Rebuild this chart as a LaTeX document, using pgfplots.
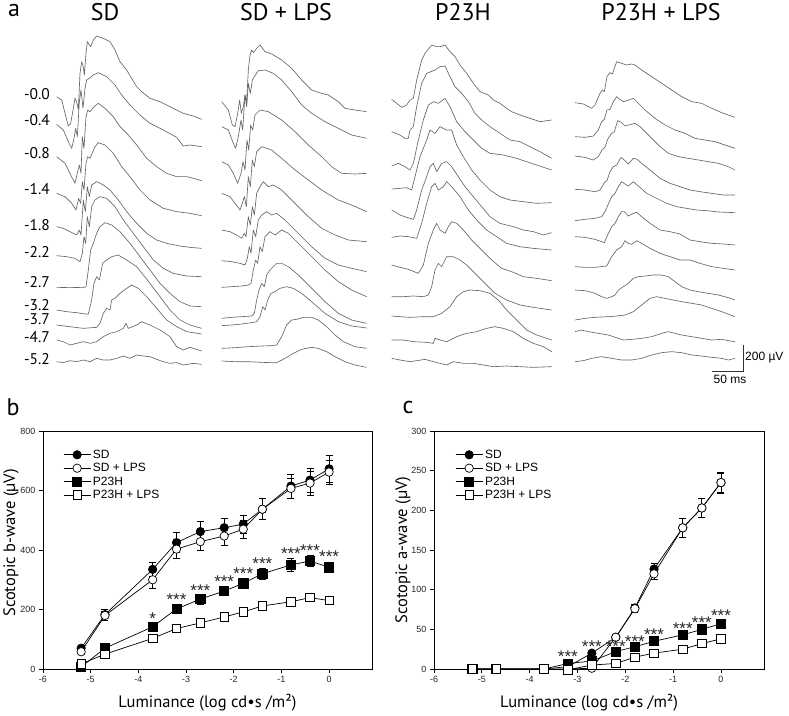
\documentclass[border=0pt]{standalone}
\usepackage{fontspec}
\setmainfont{PT Sans}
\newfontfamily\arial{Liberation Sans}
\usepackage{pgfplots}
\pgfplotsset{compat=1.18}
\usepackage{pgfplotstable}

% panel b: scotopic b-wave (x = log luminance, y = uV, e = error)
\pgfplotstableread{
x y e
-5.2 70 10
-4.7 183 18
-3.7 335 25
-3.2 425 33
-2.7 462 33
-2.2 475 33
-1.8 487 30
-1.4 537 35
-0.8 615 40
-0.4 635 40
0 673 45
}\bSD
\pgfplotstableread{
x y e
-5.2 58 10
-4.7 180 15
-3.7 300 30
-3.2 403 30
-2.7 428 30
-2.2 447 30
-1.8 470 30
-1.4 537 35
-0.8 607 35
-0.4 625 40
0 662 40
}\bSDL
\pgfplotstableread{
x y e
-5.2 7 5
-4.7 70 8
-3.7 142 12
-3.2 202 15
-2.7 235 17
-2.2 262 15
-1.8 288 18
-1.4 320 20
-0.8 350 22
-0.4 363 18
0 342 18
}\bPH
\pgfplotstableread{
x y e
-5.2 17 5
-4.7 50 6
-3.7 103 6
-3.2 136 6
-2.7 155 6
-2.2 175 6
-1.8 192 6
-1.4 212 8
-0.8 226 8
-0.4 240 8
0 230 8
}\bPHL
\pgfplotstableread{
x y s
-3.7 170 *
-3.2 232 ***
-2.7 264 ***
-2.2 294 ***
-1.8 322 ***
-1.4 354 ***
-0.8 388 ***
-0.4 399 ***
0 379 ***
}\bStars

% panel c: scotopic a-wave
\pgfplotstableread{
x y e
-5.2 0 0
-4.7 0 0
-3.7 0 0
-3.2 3 1
-2.7 20 2
-2.2 40 4
-1.8 77 5
-1.4 126 7
-0.8 178 12
-0.4 203 12
0 235 13
}\cSD
\pgfplotstableread{
x y e
-5.2 0 0
-4.7 0 0
-3.7 0 0
-3.2 0 0
-2.7 1 1
-2.2 40 4
-1.8 76 5
-1.4 120 7
-0.8 178 12
-0.4 203 12
0 235 12
}\cSDL
\pgfplotstableread{
x y e
-5.2 0 0
-4.7 0 0
-3.7 0 0
-3.2 7 1
-2.7 10 2
-2.2 22 2
-1.8 28 2
-1.4 35 2
-0.8 43 2
-0.4 50 2
0 57 2
}\cPH
\pgfplotstableread{
x y e
-5.2 0 0
-4.7 0 0
-3.7 0 0
-3.2 -1 0
-2.7 5 1
-2.2 7 1
-1.8 15 1
-1.4 20 1
-0.8 25 1
-0.4 32 1
0 38 1
}\cPHL
\pgfplotstableread{
x y s
-3.2 16 ***
-2.7 28 ***
-2.2 28 ***
-1.8 34 ***
-1.4 43 ***
-0.8 51 ***
-0.4 59 ***
0 67 ***
}\cStars

\pgfplotsset{
  trace/.style={color=black!60, line width=0.65pt, line join=round, mark=none},
  traceaxis/.style={scale only axis, hide axis, clip=false, y dir=reverse,
    ymin=0, ymax=1035, height=345pt, anchor=north west},
  erg/.style={scale only axis, anchor=south west, height=238pt,
    xmin=-6, xmax=0.9, ymin=0, xtick={-6,-5,...,0},
    axis line style={line width=0.7pt},
    tick align=outside, xtick pos=left, ytick pos=left,
    major tick length=4pt, tick style={line width=0.7pt, black},
    ticklabel style={font=\arial\fontsize{9}{10}\selectfont, black!85},
    /pgf/number format/assume math mode=true,
    label style={font=\fontsize{16.5}{17}\selectfont},
    legend style={draw=none, fill=none, inner sep=0pt, row sep=-0.5pt,
      font=\arial\fontsize{12}{12}\selectfont, cells={anchor=west}},
    legend image code/.code={\draw[mark repeat=2,mark phase=2,##1]
      plot coordinates {(0pt,0pt) (13.5pt,0pt) (27pt,0pt)};},
    clip=false},
  line/.style={black, line width=0.7pt},
  ebar/.style={error bars/.cd, y dir=both, y explicit,
    error bar style={line width=0.7pt, black},
    error mark options={rotate=90, mark size=3.5pt, line width=0.7pt, black}},
  fcirc/.style={line, mark=*, mark size=4.2pt, mark options={fill=black, line width=0.7pt}},
  ocirc/.style={line, mark=*, mark size=4.2pt, mark options={fill=white, line width=0.7pt}},
  fsq/.style={line, mark=square*, mark size=4.6pt, mark options={fill=black, line width=0.7pt}},
  osq/.style={line, mark=square*, mark size=4.2pt, mark options={fill=white, line width=0.7pt}},
  stars/.style={forget plot, draw=none, mark=none, nodes near coords,
    point meta=explicit symbolic,
    nodes near coords style={font=\arial\fontsize{17}{17}\selectfont, anchor=center, inner sep=0pt, black!85}},
}

\begin{document}
\begin{tikzpicture}
\useasboundingbox (0pt,0pt) rectangle (789pt,-715pt);

% ---------- panel a ----------
\node[font=\fontsize{24}{24}\selectfont] at (14pt,-10pt) {a};
\node[font=\fontsize{24}{24}\selectfont] at (105pt,-12pt) {SD};
\node[font=\fontsize{24}{24}\selectfont] at (286pt,-12pt) {SD + LPS};
\node[font=\fontsize{24}{24}\selectfont] at (463pt,-12pt) {P23H};
\node[font=\fontsize{24}{24}\selectfont] at (661pt,-12pt) {P23H + LPS};

\begin{scope}[every node/.style={anchor=east, font=\fontsize{15.5}{15.5}\selectfont, inner sep=0pt, text height=8pt, text depth=0pt}]
\node at (50pt,-95pt) {-0.0};
\node at (50pt,-121pt) {-0.4};
\node at (50pt,-154pt) {-0.8};
\node at (50pt,-190pt) {-1.4};
\node at (50pt,-226pt) {-1.8};
\node at (50pt,-253pt) {-2.2};
\node at (50pt,-283pt) {-2.7};
\node at (50pt,-306pt) {-3.2};
\node at (50pt,-320pt) {-3.7};
\node at (50pt,-338pt) {-4.7};
\node at (50pt,-360pt) {-5.2};
\end{scope}

% SD traces
\begin{axis}[traceaxis, at={(50pt,-30pt)}, width=160pt, xmin=0, xmax=480]
\addplot[trace] coordinates {(20,200) (35,210) (45,250) (55,288) (62,280) (70,235) (75,205) (80,215) (85,240) (90,130) (95,95) (100,110) (103,135) (108,70) (112,35) (118,45) (122,50) (130,30) (140,18) (160,25) (180,35) (195,60) (210,95) (230,120) (260,170) (275,185) (300,205) (330,215) (360,230) (400,250) (430,258) (455,268)};
\addplot[trace] coordinates {(20,283) (40,300) (55,335) (65,355) (72,325) (77,295) (82,320) (88,215) (93,180) (99,235) (105,175) (110,150) (118,145) (130,135) (145,128) (170,140) (195,165) (215,195) (240,225) (270,255) (300,280) (340,300) (380,322) (400,348) (420,345) (455,350)};
\addplot[trace] coordinates {(20,380) (45,400) (62,435) (75,460) (83,425) (88,405) (93,430) (97,320) (102,355) (108,260) (113,240) (120,245) (132,230) (145,220) (165,235) (190,260) (210,290) (235,315) (260,345) (290,385) (320,410) (350,430) (380,440) (410,440) (430,445) (455,452)};
\addplot[trace] coordinates {(20,490) (45,500) (65,520) (78,540) (86,505) (92,520) (97,455) (102,480) (108,400) (113,380) (120,385) (135,350) (145,338) (165,345) (190,370) (215,410) (240,440) (270,480) (300,510) (340,535) (380,545) (420,550) (455,557)};
\addplot[trace] coordinates {(20,590) (40,595) (60,605) (80,615) (88,600) (93,615) (100,510) (106,545) (112,470) (118,500) (125,465) (140,455) (160,465) (180,480) (205,510) (230,545) (260,580) (290,610) (320,630) (350,640) (390,648) (420,652) (455,655)};
\addplot[trace] coordinates {(20,677) (50,680) (75,685) (90,695) (97,670) (102,620) (107,640) (112,560) (118,590) (125,530) (135,510) (150,500) (170,505) (195,530) (220,570) (250,610) (280,650) (310,690) (340,715) (370,730) (410,738) (455,740)};
\addplot[trace] coordinates {(20,773) (60,772) (100,773) (108,770) (115,720) (122,660) (130,640) (140,610) (150,590) (165,578) (185,585) (210,605) (240,640) (270,680) (300,720) (330,760) (360,790) (390,815) (420,828) (455,830)};
\addplot[trace] coordinates {(20,840) (50,845) (80,848) (105,852) (115,852) (125,810) (132,760) (140,740) (148,750) (158,700) (170,690) (185,680) (205,675) (230,690) (260,710) (300,760) (330,800) (360,840) (390,870) (420,885) (455,895)};
\addplot[trace] coordinates {(20,885) (60,890) (100,895) (140,892) (150,880) (160,850) (170,835) (180,840) (185,810) (195,805) (210,790) (230,775) (245,765) (265,775) (290,800) (320,835) (350,870) (380,890) (410,905) (455,912)};
\addplot[trace] coordinates {(20,930) (40,935) (60,945) (80,940) (100,935) (120,940) (140,935) (160,920) (180,910) (200,905) (220,895) (228,880) (235,895) (260,885) (275,875) (300,885) (330,900) (360,920) (380,950) (400,960) (420,952) (455,963)};
\addplot[trace] coordinates {(20,995) (40,998) (60,992) (80,995) (100,990) (120,995) (140,985) (160,990) (180,990) (200,985) (220,978) (240,985) (260,975) (280,978) (300,980) (320,988) (340,995) (360,1000) (380,998) (400,1005) (430,1000) (455,1003)};
\end{axis}

% SD + LPS traces
\begin{axis}[traceaxis, at={(215pt,-30pt)}, width=160pt, xmin=0, xmax=480]
\addplot[trace] coordinates {(20,215) (40,240) (52,285) (60,290) (68,250) (74,210) (79,250) (85,230) (90,195) (95,215) (100,120) (105,75) (110,60) (115,68) (125,55) (135,45) (150,65) (170,72) (200,90) (230,115) (260,150) (290,180) (320,190) (340,195) (370,215) (390,235) (420,240) (455,245)};
\addplot[trace] coordinates {(20,290) (40,300) (55,340) (62,355) (70,320) (78,270) (83,300) (90,195) (95,230) (100,160) (106,190) (112,150) (118,140) (130,122) (150,120) (175,130) (200,150) (230,185) (260,225) (290,250) (330,275) (370,295) (410,315) (455,325)};
\addplot[trace] coordinates {(20,395) (40,405) (55,430) (68,460) (78,430) (84,395) (90,420) (96,330) (101,360) (107,285) (113,300) (120,255) (135,240) (160,245) (200,270) (240,305) (280,345) (320,380) (350,410) (380,430) (420,432) (455,430)};
\addplot[trace] coordinates {(20,490) (45,500) (60,520) (75,540) (82,520) (88,500) (94,530) (100,440) (106,470) (112,390) (118,410) (125,365) (140,350) (170,360) (200,385) (240,420) (280,450) (320,480) (370,510) (410,525) (455,545)};
\addplot[trace] coordinates {(20,600) (45,605) (65,615) (80,625) (88,610) (93,620) (100,560) (106,585) (112,530) (118,555) (125,490) (135,470) (145,455) (160,470) (175,465) (200,480) (240,520) (280,560) (320,595) (360,615) (400,630) (455,635)};
\addplot[trace] coordinates {(20,692) (50,695) (75,700) (90,705) (97,685) (103,650) (108,670) (115,600) (122,620) (130,570) (140,555) (155,545) (170,555) (185,550) (210,570) (250,610) (290,650) (330,685) (370,705) (410,715) (455,725)};
\addplot[trace] coordinates {(20,772) (50,770) (80,768) (100,765) (108,760) (115,720) (122,690) (128,700) (135,650) (142,665) (150,620) (165,605) (180,615) (200,600) (220,610) (250,640) (290,680) (330,720) (370,755) (410,780) (455,800)};
\addplot[trace] coordinates {(20,865) (50,862) (80,860) (110,858) (118,850) (125,810) (132,780) (140,760) (148,770) (155,735) (165,720) (185,700) (200,700) (220,710) (250,735) (290,775) (330,815) (370,850) (410,870) (455,880)};
\addplot[trace] coordinates {(20,887) (50,885) (80,882) (110,878) (125,875) (135,860) (143,830) (150,840) (158,810) (168,790) (180,785) (195,775) (215,770) (235,775) (260,790) (290,815) (330,850) (370,875) (410,888) (455,894)};
\addplot[trace] coordinates {(20,955) (60,953) (100,950) (140,948) (170,947) (185,945) (200,920) (215,885) (230,870) (245,868) (265,862) (290,862) (310,870) (335,890) (360,915) (385,935) (420,950) (455,955)};
\addplot[trace] coordinates {(20,993) (60,995) (100,995) (140,997) (170,998) (185,998) (210,985) (235,970) (260,958) (290,952) (310,955) (335,965) (360,980) (390,995) (420,1005) (455,1012)};
\end{axis}

% P23H traces
\begin{axis}[traceaxis, at={(380pt,-30pt)}, width=180pt, xmin=0, xmax=540]
\addplot[trace] coordinates {(35,208) (50,220) (65,232) (80,225) (90,210) (100,205) (110,150) (125,90) (135,70) (155,45) (170,50) (180,50) (195,45) (210,65) (225,80) (240,105) (260,130) (280,160) (300,185) (325,195) (340,210) (360,220) (380,235) (395,245) (420,255) (450,265) (480,275) (515,270)};
\addplot[trace] coordinates {(35,305) (60,315) (75,325) (85,325) (90,300) (100,290) (110,230) (125,160) (140,130) (165,120) (180,110) (195,108) (210,140) (225,170) (245,190) (265,215) (285,250) (305,270) (330,290) (360,310) (390,330) (420,335) (450,350) (480,365) (515,385)};
\addplot[trace] coordinates {(35,408) (55,400) (75,410) (90,420) (100,400) (115,330) (130,270) (145,225) (160,215) (175,220) (195,205) (210,230) (230,275) (255,305) (280,330) (305,355) (330,370) (370,375) (410,385) (440,395) (470,405) (515,420)};
\addplot[trace] coordinates {(35,477) (60,475) (80,473) (95,480) (105,440) (120,380) (140,330) (150,300) (165,310) (180,290) (200,300) (215,300) (220,315) (230,345) (250,380) (275,420) (300,450) (330,480) (360,500) (390,510) (430,515) (470,520) (515,518)};
\addplot[trace] coordinates {(35,540) (60,555) (80,562) (100,568) (110,540) (125,480) (140,440) (150,410) (160,400) (170,425) (185,400) (200,395) (215,410) (235,440) (255,470) (280,500) (305,530) (330,560) (360,580) (400,590) (430,600) (460,605) (490,615) (515,608)};
\addplot[trace] coordinates {(35,622) (60,618) (85,620) (110,625) (125,580) (140,520) (155,470) (165,460) (175,480) (190,470) (200,455) (215,470) (240,500) (265,540) (290,570) (320,600) (350,620) (380,640) (420,650) (460,655) (515,660)};
\addplot[trace] coordinates {(35,705) (60,712) (85,718) (115,730) (130,705) (145,640) (160,600) (170,580) (180,600) (195,610) (205,590) (215,575) (230,580) (250,600) (275,630) (305,660) (335,690) (365,715) (395,725) (430,740) (470,745) (515,752)};
\addplot[trace] coordinates {(35,800) (70,800) (100,798) (130,800) (145,795) (155,770) (165,720) (175,700) (185,710) (200,680) (220,680) (240,690) (260,705) (285,730) (315,760) (345,790) (380,810) (420,825) (460,832) (515,840)};
\addplot[trace] coordinates {(35,858) (60,860) (90,862) (130,860) (160,860) (185,850) (210,830) (230,800) (250,785) (270,780) (300,782) (330,790) (355,810) (380,840) (410,870) (440,900) (470,915) (500,925) (515,930)};
\addplot[trace] coordinates {(35,930) (70,930) (100,935) (140,937) (160,940) (165,925) (180,930) (200,935) (230,920) (260,910) (290,905) (320,895) (345,890) (370,895) (400,905) (430,925) (460,940) (490,950) (515,965)};
\addplot[trace] coordinates {(35,985) (60,990) (90,995) (110,992) (135,988) (160,995) (180,1000) (200,1005) (220,995) (250,1000) (280,1000) (310,1005) (340,1010) (380,1008) (420,1010) (460,1012) (515,1010)};
\end{axis}

% P23H + LPS traces
\begin{axis}[traceaxis, at={(565pt,-30pt)}, width=180pt, xmin=0, xmax=540]
\addplot[trace] coordinates {(30,218) (55,222) (80,235) (90,225) (105,190) (112,180) (118,185) (126,140) (135,128) (142,132) (155,95) (170,100) (185,105) (200,102) (210,105) (230,120) (260,140) (290,160) (320,180) (350,200) (380,215) (410,220) (440,235) (470,248) (510,262)};
\addplot[trace] coordinates {(30,320) (60,322) (85,318) (100,300) (110,275) (118,268) (126,240) (135,238) (145,215) (155,200) (165,208) (175,215) (185,212) (205,205) (220,220) (240,240) (270,265) (300,285) (330,300) (360,310) (390,325) (420,330) (450,335) (480,345) (510,355)};
\addplot[trace] coordinates {(30,378) (60,382) (85,390) (100,380) (112,358) (120,352) (128,328) (138,312) (148,305) (158,272) (168,276) (180,288) (195,284) (210,280) (225,290) (250,315) (280,345) (310,370) (340,380) (370,385) (400,390) (430,395) (460,400) (490,410) (510,420)};
\addplot[trace] coordinates {(30,478) (60,480) (90,485) (105,480) (118,458) (126,452) (135,425) (145,410) (155,405) (168,382) (178,390) (190,402) (205,385) (215,387) (230,400) (255,420) (285,445) (315,460) (345,470) (375,480) (405,485) (440,490) (475,495) (510,495)};
\addplot[trace] coordinates {(30,572) (60,568) (90,565) (110,560) (120,545) (130,522) (140,500) (150,490) (160,470) (170,455) (180,462) (190,468) (205,455) (220,468) (245,490) (275,505) (305,520) (335,530) (365,535) (395,540) (425,542) (460,546) (510,548)};
\addplot[trace] coordinates {(30,620) (60,622) (90,628) (118,638) (130,610) (140,590) (150,580) (160,560) (170,545) (178,545) (190,558) (205,550) (215,547) (230,560) (255,580) (285,600) (315,605) (345,612) (375,630) (405,635) (440,640) (475,642) (510,645)};
\addplot[trace] coordinates {(30,710) (60,712) (90,712) (125,708) (140,680) (155,660) (170,650) (180,632) (190,640) (200,643) (215,632) (230,640) (255,655) (285,670) (315,680) (345,690) (375,690) (405,700) (440,710) (475,715) (510,720)};
\addplot[trace] coordinates {(30,780) (60,782) (90,790) (110,800) (125,805) (140,800) (150,795) (160,780) (175,770) (190,760) (205,745) (220,740) (240,738) (265,735) (290,735) (310,740) (330,755) (350,770) (375,780) (400,785) (430,790) (460,795) (490,803) (510,810)};
\addplot[trace] coordinates {(30,870) (60,865) (90,862) (130,860) (155,858) (180,855) (205,845) (230,825) (255,805) (275,800) (300,805) (325,810) (350,815) (380,820) (410,825) (440,835) (470,845) (510,860)};
\addplot[trace] coordinates {(30,905) (50,900) (70,905) (100,910) (130,915) (160,925) (175,930) (200,928) (230,925) (260,920) (290,910) (310,905) (330,910) (350,915) (380,920) (410,925) (440,930) (470,928) (490,932) (510,935)};
\addplot[trace] coordinates {(30,995) (55,992) (80,985) (110,980) (140,985) (170,990) (200,990) (230,985) (260,975) (290,968) (320,965) (350,968) (380,975) (410,978) (440,982) (470,985) (490,990) (510,985)};
\end{axis}

% scale bar
\draw[black!80, line width=0.7pt] (712pt,-371pt) -- (743pt,-371pt) -- (743pt,-345pt);
\node[anchor=west, inner sep=0pt, font=\arial\fontsize{12}{12}\selectfont] at (745pt,-358pt) {200 µV};
\node[inner sep=0pt, font=\arial\fontsize{12}{12}\selectfont] at (730pt,-379pt) {50 ms};

% ---------- panel b ----------
\node[font=\fontsize{24}{24}\selectfont] at (13pt,-407pt) {b};
\begin{axis}[erg, at={(43pt,-669pt)}, width=329pt, ymax=800, ytick={0,200,...,800},
  xlabel={Luminance (log cd•s /m²)}, ylabel={Scotopic b-wave (µV)},
  xlabel style={at={(axis description cs:0.5,-0.143)}, anchor=center},
  ylabel style={at={(axis description cs:-0.097,0.53)}, anchor=center},
  legend style={at={(axis description cs:0.061,0.93)}, anchor=north west}]
\addplot[fcirc, ebar] table[x=x, y=y, y error=e] {\bSD};
\addlegendentry{SD}
\addplot[ocirc, ebar] table[x=x, y=y, y error=e] {\bSDL};
\addlegendentry{SD + LPS}
\addplot[fsq, ebar] table[x=x, y=y, y error=e] {\bPH};
\addlegendentry{P23H}
\addplot[osq, ebar] table[x=x, y=y, y error=e] {\bPHL};
\addlegendentry{P23H + LPS}
\addplot[stars] table[x=x, y=y, meta=s] {\bStars};
\end{axis}

% ---------- panel c ----------
\node[font=\fontsize{24}{24}\selectfont] at (408pt,-407pt) {c};
\begin{axis}[erg, at={(434pt,-669pt)}, width=330pt, ymax=300, ytick={0,50,...,300},
  xlabel={Luminance (log cd•s /m²)}, ylabel={Scotopic a-wave (µV)},
  xlabel style={at={(axis description cs:0.47,-0.143)}, anchor=center},
  ylabel style={at={(axis description cs:-0.094,0.5)}, anchor=center},
  legend style={at={(axis description cs:0.064,0.93)}, anchor=north west}]
\addplot[fcirc, ebar] table[x=x, y=y, y error=e] {\cSD};
\addlegendentry{SD}
\addplot[ocirc, ebar] table[x=x, y=y, y error=e] {\cSDL};
\addlegendentry{SD + LPS}
\addplot[fsq, ebar] table[x=x, y=y, y error=e] {\cPH};
\addlegendentry{P23H}
\addplot[osq, ebar] table[x=x, y=y, y error=e] {\cPHL};
\addlegendentry{P23H + LPS}
\addplot[stars] table[x=x, y=y, meta=s] {\cStars};
\end{axis}
\end{tikzpicture}
\end{document}
